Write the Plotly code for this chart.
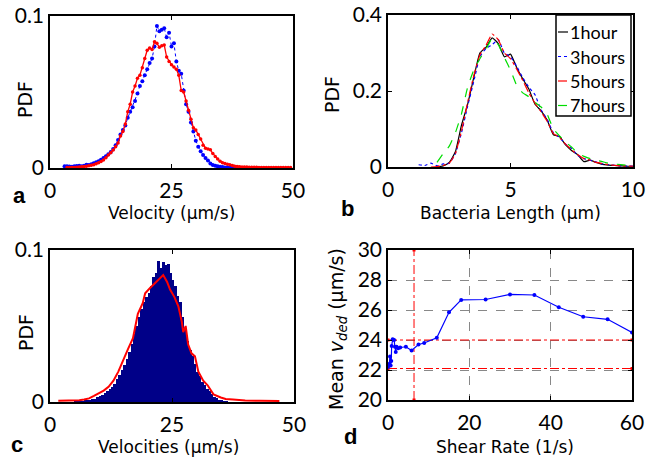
import plotly.graph_objects as go

W, H = 646, 462

# ---------------- Panel a data ----------------
vel_red_x = [3.5 + 0.5 * i for i in range(93)]
vel_red_y = [0.0004, 0.0004, 0.0003, 0.0004, 0.0005, 0.0006, 0.0008, 0.0010, 0.0012, 0.0015,
             0.0018, 0.0022, 0.0028, 0.0034, 0.0042, 0.0052, 0.0068, 0.0085, 0.0100, 0.0118,
             0.0140, 0.0165, 0.0210, 0.0240, 0.0290, 0.0370, 0.0420, 0.0500, 0.0540, 0.0590,
             0.0610, 0.0660, 0.0720, 0.0775, 0.0790, 0.0780, 0.0830, 0.0820, 0.0795, 0.0805,
             0.0810, 0.0730, 0.0700, 0.0680, 0.0665, 0.0650, 0.0610, 0.0510, 0.0500, 0.0440,
             0.0380, 0.0320, 0.0265, 0.0250, 0.0220, 0.0190, 0.0150, 0.0130, 0.0125, 0.0120,
             0.0095, 0.0075, 0.0060, 0.0045, 0.0035, 0.0030, 0.0025, 0.0022, 0.0016, 0.0012,
             0.0010, 0.0008, 0.0007, 0.0006, 0.0006, 0.0005, 0.0005, 0.0005, 0.0005, 0.0004,
             0.0004, 0.0004, 0.0004, 0.0004, 0.0004, 0.0003, 0.0003, 0.0003, 0.0003, 0.0003,
             0.0003, 0.0003, 0.0003]
vel_blue_x = [3.0 + 0.5 * i for i in range(71)]
vel_blue_y = [0.0012, 0.0012, 0.0010, 0.0009, 0.0011, 0.0013, 0.0014, 0.0012, 0.0015, 0.0022,
              0.0020, 0.0025, 0.0032, 0.0038, 0.0045, 0.0055, 0.0065, 0.0078, 0.0090, 0.0105,
              0.0125, 0.0150, 0.0185, 0.0220, 0.0250, 0.0280, 0.0330, 0.0370, 0.0400, 0.0440,
              0.0490, 0.0540, 0.0570, 0.0610, 0.0650, 0.0690, 0.0720, 0.0800, 0.0935, 0.0900,
              0.0910, 0.0920, 0.0860, 0.0890, 0.0800, 0.0820, 0.0700, 0.0640, 0.0620, 0.0510,
              0.0420, 0.0370, 0.0300, 0.0240, 0.0180, 0.0140, 0.0110, 0.0085, 0.0065, 0.0050,
              0.0030, 0.0020, 0.0014, 0.0012, 0.0008, 0.0006, 0.0004, 0.0003, 0.0002, 0.0001,
              0.0001]

# ---------------- Panel b data ----------------
len_names = ["1hour", "3hours", "5hours", "7hours"]
len_1h_x = [2.0, 2.25, 2.5, 2.75, 3.0, 3.25, 3.5, 3.75, 4.0, 4.25, 4.5, 4.75, 5.0, 5.25, 5.5,
            5.75, 6.0, 6.25, 6.5, 6.75, 7.0, 7.25, 7.5, 7.75, 8.0, 8.25, 8.5, 8.75, 9.0, 9.25,
            9.5, 9.75, 10.0]
len_1h_y = [0.000, 0.003, 0.012, 0.040, 0.110, 0.165, 0.235, 0.300, 0.315, 0.340, 0.325, 0.290,
            0.297, 0.262, 0.232, 0.205, 0.165, 0.148, 0.123, 0.085, 0.080, 0.058, 0.043, 0.032,
            0.014, 0.018, 0.012, 0.007, 0.005, 0.004, 0.003, 0.002, 0.002]
len_3h_x = [1.25, 1.5, 1.75, 2.0, 2.25, 2.5, 2.75, 3.0, 3.25, 3.5, 3.75, 4.0, 4.25, 4.5, 4.75,
            5.0, 5.25, 5.5, 5.75, 6.0, 6.25, 6.5, 6.75, 7.0, 7.25, 7.5, 7.75, 8.0, 8.25, 8.5,
            8.75, 9.0, 9.5, 10.0]
len_3h_y = [0.006, 0.004, 0.010, 0.003, 0.008, 0.010, 0.035, 0.090, 0.160, 0.225, 0.290, 0.312,
            0.322, 0.335, 0.300, 0.290, 0.265, 0.235, 0.210, 0.190, 0.150, 0.125, 0.090, 0.078,
            0.060, 0.048, 0.030, 0.022, 0.018, 0.013, 0.008, 0.006, 0.003, 0.002]
len_5h_x = [1.75, 2.0, 2.25, 2.5, 2.75, 3.0, 3.25, 3.5, 3.75, 4.0, 4.25, 4.5, 4.75, 5.0, 5.25,
            5.5, 5.75, 6.0, 6.25, 6.5, 6.75, 7.0, 7.25, 7.5, 7.75, 8.0, 8.25, 8.5, 8.75, 9.0,
            9.5, 10.0]
len_5h_y = [0.000, 0.001, 0.004, 0.010, 0.035, 0.095, 0.170, 0.240, 0.295, 0.320, 0.350, 0.335,
            0.300, 0.285, 0.258, 0.228, 0.195, 0.168, 0.145, 0.120, 0.088, 0.078, 0.060, 0.045,
            0.032, 0.022, 0.018, 0.012, 0.009, 0.006, 0.003, 0.002]
len_7h_x = [2.0, 2.25, 2.5, 2.75, 3.0, 3.25, 3.5, 3.75, 4.0, 4.25, 4.5, 4.75, 5.0, 5.25, 5.5,
            5.75, 6.0, 6.25, 6.5, 6.75, 7.0, 7.25, 7.5, 7.75, 8.0, 8.25, 8.5, 8.75, 9.0, 9.5,
            10.0]
len_7h_y = [0.012, 0.035, 0.055, 0.090, 0.140, 0.210, 0.255, 0.285, 0.310, 0.338, 0.322, 0.288,
            0.255, 0.215, 0.195, 0.185, 0.170, 0.158, 0.138, 0.100, 0.082, 0.066, 0.052, 0.036,
            0.028, 0.022, 0.018, 0.014, 0.010, 0.006, 0.004]

# ---------------- Panel c data ----------------
hist_left = [5.0 + 0.5 * i for i in range(63)]
hist_pdf = [0.0003, 0.0004, 0.0005, 0.0006, 0.0008, 0.0010, 0.0013, 0.0018, 0.0023, 0.0030,
            0.0038, 0.0048, 0.0060, 0.0072, 0.0085, 0.0100, 0.0120, 0.0150, 0.0180, 0.0210,
            0.0245, 0.0285, 0.0330, 0.0380, 0.0450, 0.0500, 0.0560, 0.0610, 0.0660, 0.0690,
            0.0720, 0.0760, 0.0820, 0.0850, 0.0930, 0.0880, 0.0920, 0.0900, 0.0910, 0.0850,
            0.0800, 0.0760, 0.0700, 0.0660, 0.0560, 0.0480, 0.0400, 0.0340, 0.0300, 0.0250,
            0.0200, 0.0170, 0.0130, 0.0110, 0.0085, 0.0070, 0.0050, 0.0035, 0.0025, 0.0015,
            0.0010, 0.0006, 0.0003]
fit_x = [1.7, 3, 4, 5, 6, 7, 8, 9, 10, 11, 12, 13, 14, 15, 16, 17, 17.5, 18, 19, 19.5, 20.5,
         21.5, 22.5, 23.2, 24, 24.6, 25.5, 26.3, 27, 27.3, 27.8, 28.3, 29, 29.7, 30.4, 31.4,
         32.3, 33.5, 35, 36, 37.5, 40, 43, 47]
fit_y = [0.0008, 0.0008, 0.0010, 0.0012, 0.0012, 0.0016, 0.0024, 0.0040, 0.0055, 0.0075,
         0.0100, 0.0140, 0.0200, 0.0280, 0.0350, 0.0420, 0.0500, 0.0580, 0.0650, 0.0715,
         0.0750, 0.0780, 0.0810, 0.0835, 0.0790, 0.0740, 0.0690, 0.0630, 0.0530, 0.0460,
         0.0500, 0.0380, 0.0320, 0.0300, 0.0200, 0.0140, 0.0110, 0.0050, 0.0030, 0.0020,
         0.0016, 0.0010, 0.0008, 0.0007]

# ---------------- Panel d data ----------------
shear = [0, 0.3, 0.5, 0.65, 0.8, 0.9, 1.15, 1.5, 1.7, 1.9, 2.1, 2.5, 3.0, 4.4, 5.8, 7.5, 8.9,
         12, 15, 18, 24, 30, 36, 42, 48, 54, 60]
mean_v = [22.2, 22.4, 22.9, 22.3, 22.6, 23.6, 24.05, 24.0, 23.55, 23.2, 23.55, 23.45, 23.5,
          23.55, 23.3, 23.7, 23.8, 24.15, 25.85, 26.67, 26.7, 27.04, 27.0, 26.18, 25.55, 25.38,
          24.5]
h_levels = [24.0, 22.1]
v_level = 6.4
d_xrange = [0, 60]
d_yrange = [20, 30]


def px(x):
    return x / W


def py(y):
    return 1 - y / H


TICKFONT = dict(family="Lato, Carlito, Calibri, sans-serif", size=21, color="black")
TITLEFONT = dict(family="DejaVu Sans, Verdana, sans-serif", size=17, color="black")

fig = go.Figure()

# Panel a
fig.add_trace(go.Scatter(x=vel_blue_x, y=vel_blue_y, mode="lines+markers",
                         line=dict(color="blue", width=1, dash="dot"),
                         marker=dict(symbol="circle", size=4, color="blue"),
                         xaxis="x", yaxis="y", showlegend=False))
fig.add_trace(go.Scatter(x=vel_red_x, y=vel_red_y, mode="lines+markers",
                         line=dict(color="red", width=1.3),
                         marker=dict(symbol="circle", size=3.5, color="red"),
                         xaxis="x", yaxis="y", showlegend=False))

# Panel b
b_styles = [("black", "solid"), ("blue", "dot"), ("red", "dashdot"), ("#00dd00", "dash")]
b_data = [(len_1h_x, len_1h_y), (len_3h_x, len_3h_y), (len_5h_x, len_5h_y), (len_7h_x, len_7h_y)]
for (bx, by), (col, dash), nm in zip(b_data, b_styles, len_names):
    fig.add_trace(go.Scatter(x=bx, y=by, mode="lines", name=nm,
                             line=dict(color=col, width=1.2, dash=dash, shape="spline", smoothing=0.4),
                             xaxis="x2", yaxis="y2", showlegend=False))

# Panel c
fig.add_trace(go.Bar(x=[v + 0.25 for v in hist_left], y=hist_pdf, width=0.5,
                     marker=dict(color="#000088", line=dict(width=0)),
                     xaxis="x3", yaxis="y3", showlegend=False))
fig.add_trace(go.Scatter(x=fit_x, y=fit_y, mode="lines",
                         line=dict(color="red", width=2),
                         xaxis="x3", yaxis="y3", showlegend=False))

# Panel d
for lv in h_levels:
    fig.add_trace(go.Scatter(x=d_xrange, y=[lv, lv], mode="lines+markers",
                             line=dict(color="red", width=1, dash="dashdot"),
                             marker=dict(symbol="square", size=3, color="red"),
                             xaxis="x4", yaxis="y4", showlegend=False, cliponaxis=False))
fig.add_trace(go.Scatter(x=[v_level, v_level], y=d_yrange, mode="lines+markers",
                         line=dict(color="red", width=1, dash="dashdot"),
                         marker=dict(symbol="square", size=3, color="red"),
                         xaxis="x4", yaxis="y4", showlegend=False, cliponaxis=False))
fig.add_trace(go.Scatter(x=shear, y=mean_v, mode="lines+markers",
                         line=dict(color="blue", width=1.2),
                         marker=dict(symbol="circle", size=4, color="blue"),
                         xaxis="x4", yaxis="y4", showlegend=False))


def ax(domain, rng, tickvals, anchor, grid=False, xaxis=True):
    d = dict(domain=domain, range=rng, tickvals=tickvals, anchor=anchor,
             showline=True, linecolor="black", linewidth=1.5, mirror="ticks",
             ticks="inside", ticklen=4, tickwidth=1, tickcolor="black", automargin=False,
             tickfont=TICKFONT, zeroline=False, showgrid=grid, fixedrange=True)
    if grid:
        d.update(gridcolor="#888888", griddash="dash", gridwidth=1)
    if xaxis:
        d.update(ticklabelstandoff=3)
    return d


fig.update_layout(
    width=W, height=H, margin=dict(l=0, r=0, t=0, b=0, autoexpand=False),
    paper_bgcolor="white", plot_bgcolor="white", bargap=0,
    xaxis=ax([px(50), px(293)], [0, 50], [0, 25, 50], "y"),
    yaxis=ax([py(168), py(16)], [0, 0.1], [0, 0.1], "x", xaxis=False),
    xaxis2=ax([px(388), px(633)], [0, 10], [0, 5, 10], "y2"),
    yaxis2=ax([py(167), py(15)], [0, 0.4], [0, 0.2, 0.4], "x2", xaxis=False),
    xaxis3=ax([px(50), px(294)], [0, 50], [0, 25, 50], "y3"),
    yaxis3=ax([py(402), py(250)], [0, 0.1], [0, 0.1], "x3", xaxis=False),
    xaxis4=ax([px(388), px(632)], d_xrange, [0, 20, 40, 60], "y4", grid=True),
    yaxis4=ax([py(400), py(250)], d_yrange, [20, 22, 24, 26, 28, 30], "x4", grid=True, xaxis=False),
)

annots = []


def text(x, y, s, font, angle=0, xanchor="center", yanchor="middle"):
    annots.append(dict(x=px(x), y=py(y), xref="paper", yref="paper", text=s, showarrow=False,
                       font=font, textangle=angle, xanchor=xanchor, yanchor=yanchor))


BOLD = dict(family="Liberation Sans, Arial, sans-serif", size=22, color="black", weight="bold")
LBL = dict(family="DejaVu Sans, Verdana, sans-serif", size=19, color="black")

text(171, 213, "Velocity (µm/s)", TITLEFONT)
text(510, 213, "Bacteria Length (µm)", TITLEFONT)
text(168, 447, "Velocities (µm/s)", TITLEFONT)
text(505, 447, "Shear Rate (1/s)", TITLEFONT)
text(25, 100, "PDF", LBL, angle=-90)
text(332, 95, "PDF", LBL, angle=-90)
text(26, 333, "PDF", LBL, angle=-90)
text(337, 329, "Mean <i>v</i><sub><i>ded</i></sub> (µm/s)", LBL, angle=-90)
text(19, 195, "a", BOLD)
text(347, 209, "b", BOLD)
text(17, 444, "c", BOLD)
text(351, 436, "d", BOLD)

# Legend for panel b (manual, to match short line samples)
shapes = [dict(type="rect", xref="paper", yref="paper", x0=px(556), x1=px(631), y0=py(116), y1=py(15),
               line=dict(color="black", width=1.5), fillcolor="white", layer="above")]
LEGFONT = dict(family="Lato, Carlito, Calibri, sans-serif", size=18, color="black")
for i, ((col, dash), nm) in enumerate(zip(b_styles, len_names)):
    yy = 32 + i * 24.5
    shapes.append(dict(type="line", xref="paper", yref="paper", x0=px(558), x1=px(568),
                       y0=py(yy), y1=py(yy), line=dict(color=col, width=1.2, dash=dash), layer="above"))
    text(568, yy, nm, LEGFONT, xanchor="left")

fig.update_layout(annotations=annots, shapes=shapes)
fig.write_html("out.html", config={"displayModeBar": False},
               post_script="document.body.style.margin='0';document.body.style.overflow='hidden';")
